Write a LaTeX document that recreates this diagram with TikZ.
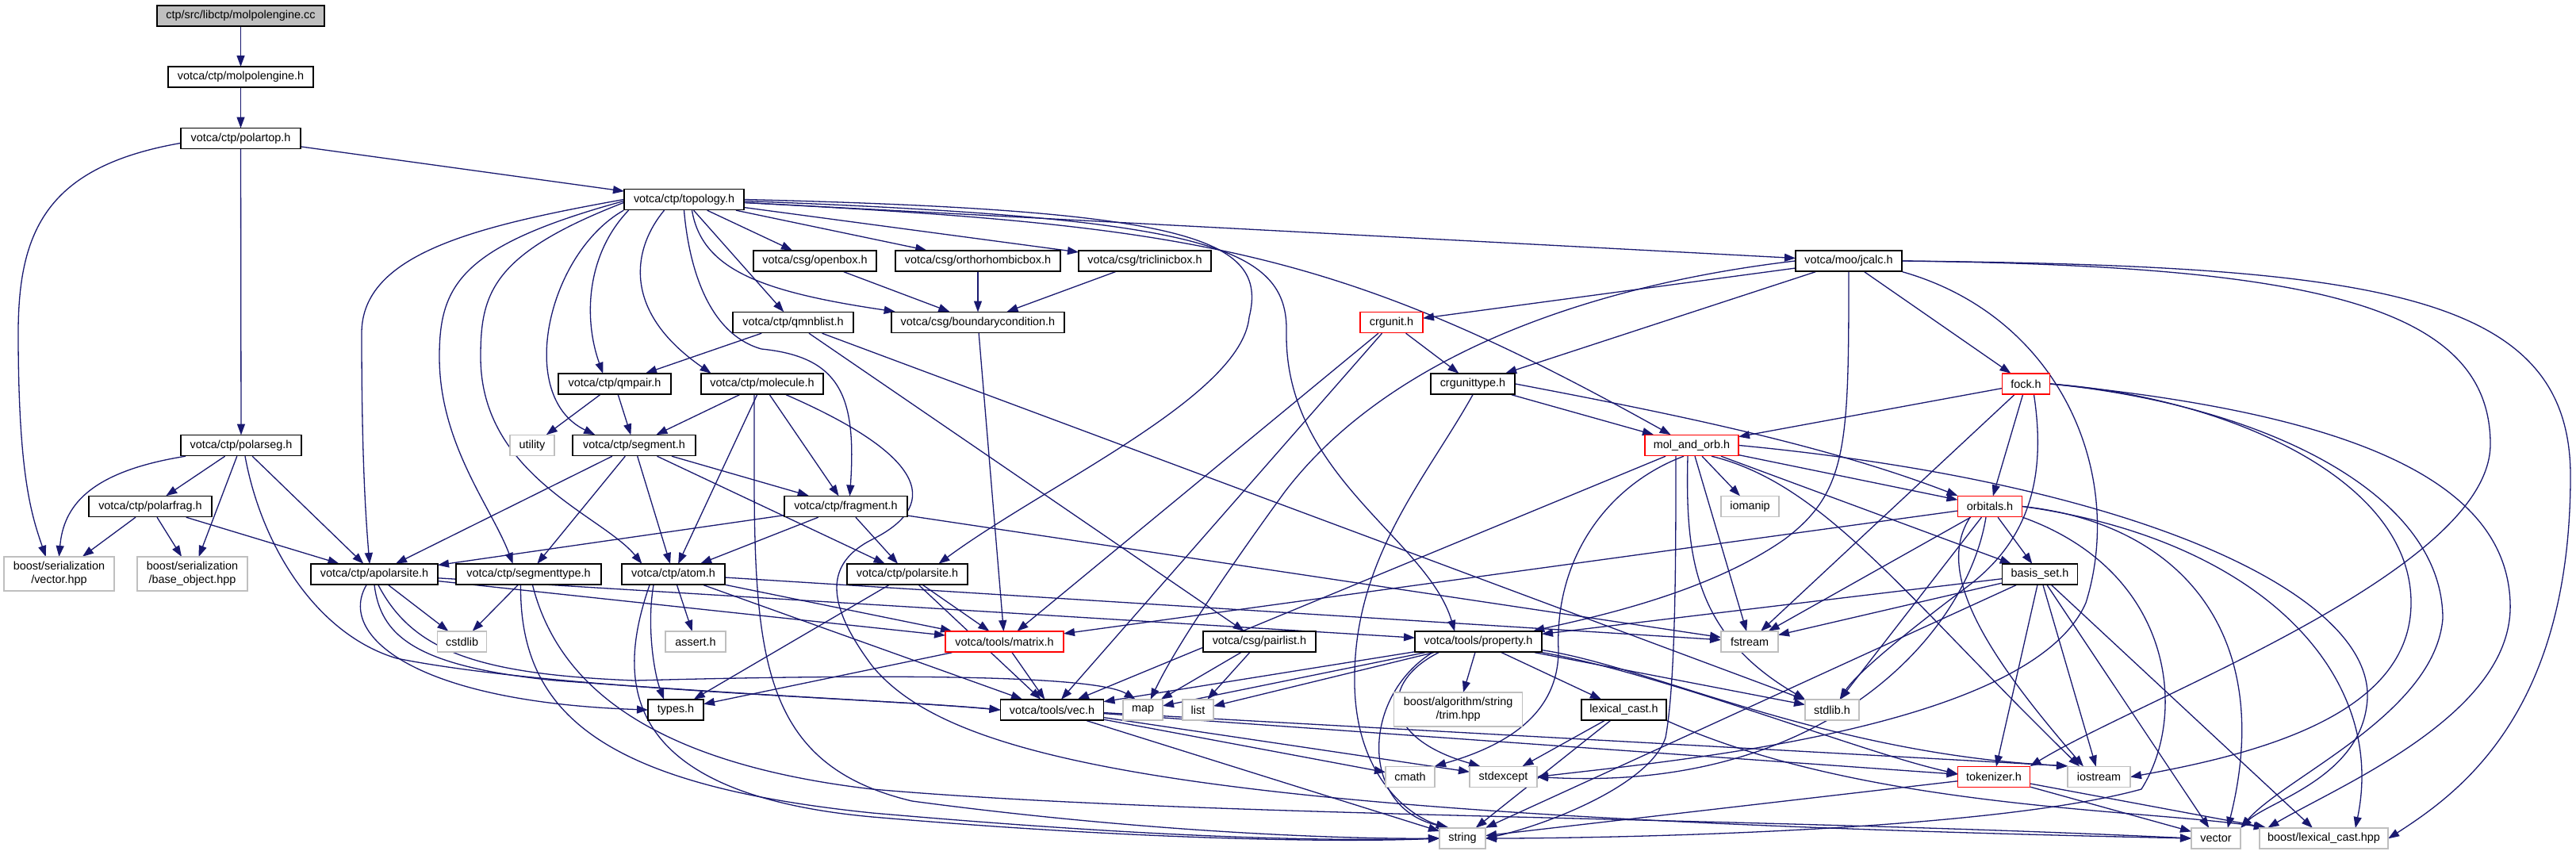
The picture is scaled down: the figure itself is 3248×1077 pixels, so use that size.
\documentclass[tikz,border=0pt]{standalone}
\usepackage{fontspec}
\setmainfont{Liberation Sans}
\usepackage{tikz}
\usetikzlibrary{arrows.meta}
\definecolor{edgeblue}{HTML}{191970}
\definecolor{sysgray}{HTML}{BFBFBF}
\definecolor{truncred}{HTML}{FF0000}
\pgfdeclarelayer{edges}
\pgfsetlayers{edges,main}

\begin{document}
\begin{tikzpicture}[
  x=1pt, y=-1pt,
  box/.style={rectangle, draw=black, line width=1.4pt, fill=white, minimum height=26pt, inner xsep=4pt, inner ysep=0pt, align=center, font=\fontsize{14.4}{17}\selectfont},
  sysbox/.style={box, draw=sysgray},
  redbox/.style={box, draw=truncred},
  rootbox/.style={box, fill=sysgray},
  arrow/.style={-{Triangle[length=14pt,width=10pt]}, draw=edgeblue, line width=1.3pt, shorten >=-0.7pt}
]
\node[rootbox, minimum width=211pt] (cc) at (303.5,20) {ctp/src/libctp/molpolengine.cc};
\node[box, minimum width=183pt] (mpe) at (303.5,97) {votca/ctp/molpolengine.h};
\node[box, minimum width=151pt] (ptop) at (303.5,174.5) {votca/ctp/polartop.h};
\node[box, minimum width=151pt] (topo) at (862.5,251.5) {votca/ctp/topology.h};
\node[box, minimum width=155pt] (obox) at (1027.5,329) {votca/csg/openbox.h};
\node[box, minimum width=208pt] (orbox) at (1233,329) {votca/csg/orthorhombicbox.h};
\node[box, minimum width=167pt] (tbox) at (1443.5,329) {votca/csg/triclinicbox.h};
\node[box, minimum width=134pt] (jcalc) at (2331,329) {votca/moo/jcalc.h};
\node[box, minimum width=152pt] (nblist) at (1000,406.5) {votca/ctp/qmnblist.h};
\node[box, minimum width=218pt] (bcond) at (1233,406.5) {votca/csg/boundarycondition.h};
\node[redbox, minimum width=79pt] (crg) at (1754.5,406.5) {crgunit.h};
\node[box, minimum width=142pt] (qmpair) at (775,484) {votca/ctp/qmpair.h};
\node[box, minimum width=154pt] (mol) at (961,484) {votca/ctp/molecule.h};
\node[box, minimum width=106pt] (crgtype) at (1857,484) {crgunittype.h};
\node[redbox, minimum width=60pt] (fock) at (2554.5,484) {fock.h};
\node[box, minimum width=152pt] (pseg) at (304,561.5) {votca/ctp/polarseg.h};
\node[sysbox, minimum width=56pt] (utility) at (671,561.5) {utility};
\node[box, minimum width=155pt] (seg) at (799.5,561.5) {votca/ctp/segment.h};
\node[redbox, minimum width=118pt] (molorb) at (2133,561.5) {mol\_and\_orb.h};
\node[box, minimum width=155pt] (pfrag) at (189.5,638.5) {votca/ctp/polarfrag.h};
\node[box, minimum width=155pt] (frag) at (1066.5,638.5) {votca/ctp/fragment.h};
\node[sysbox, minimum width=73pt] (iomanip) at (2206.5,638.5) {iomanip};
\node[redbox, minimum width=81pt] (orbs) at (2509,638.5) {orbitals.h};
\node[sysbox, minimum width=139pt, minimum height=43pt] (bsvec) at (74.5,723.5) {boost/serialization\\/vector.hpp};
\node[sysbox, minimum width=139pt, minimum height=43pt] (bsbase) at (242.5,723.5) {boost/serialization\\/base\_object.hpp};
\node[box, minimum width=160pt] (apsite) at (472,724) {votca/ctp/apolarsite.h};
\node[box, minimum width=183pt] (segtype) at (666.5,724) {votca/ctp/segmenttype.h};
\node[box, minimum width=130pt] (atom) at (849,724) {votca/ctp/atom.h};
\node[box, minimum width=152pt] (psite) at (1144,724) {votca/ctp/polarsite.h};
\node[box, minimum width=95pt] (basis) at (2572,724) {basis\_set.h};
\node[sysbox, minimum width=62pt] (cstdlib) at (582.6,809) {cstdlib};
\node[sysbox, minimum width=76pt] (assert) at (877,809) {assert.h};
\node[redbox, minimum width=149pt] (matrix) at (1266.5,809) {votca/tools/matrix.h};
\node[box, minimum width=142pt] (pairlist) at (1588,809) {votca/csg/pairlist.h};
\node[box, minimum width=160pt] (prop) at (1864,809) {votca/tools/property.h};
\node[sysbox, minimum width=72pt] (fstream) at (2206,809) {fstream};
\node[box, minimum width=70pt] (types) at (852,895) {types.h};
\node[box, minimum width=130pt] (vec) at (1326.5,895) {votca/tools/vec.h};
\node[sysbox, minimum width=50pt] (map) at (1441,895) {map};
\node[sysbox, minimum width=39pt] (list) at (1510.5,895) {list};
\node[sysbox, minimum width=162pt, minimum height=43pt] (trim) at (1838.6,894.5) {boost/algorithm/string\\/trim.hpp};
\node[box, minimum width=107pt] (lexcast) at (2047.5,895) {lexical\_cast.h};
\node[sysbox, minimum width=68pt] (stdlibh) at (2310,895) {stdlib.h};
\node[sysbox, minimum width=62pt] (cmath) at (1778,979.5) {cmath};
\node[sysbox, minimum width=85pt] (stdexcept) at (1895.5,979.5) {stdexcept};
\node[redbox, minimum width=91pt] (tokenizer) at (2514,979.5) {tokenizer.h};
\node[sysbox, minimum width=79pt] (iostream) at (2646.5,979.5) {iostream};
\node[sysbox, minimum width=58pt] (string) at (1844,1057) {string};
\node[sysbox, minimum width=62pt] (vector) at (2794,1057) {vector};
\node[sysbox, minimum width=162pt] (blexcast) at (2930,1057) {boost/lexical\_cast.hpp};

\begin{pgfonlayer}{edges}
\fill[white] (0,0) rectangle (3248,1077);

\draw[arrow] (cc) -- (mpe);
\draw[arrow] (mpe) -- (ptop);
\draw[arrow] (ptop) -- (topo);
\draw[arrow] (ptop) -- (pseg);
\draw[arrow] ([yshift=-6pt]ptop.west) .. controls (60,210) and (23,290) .. (23,420) .. controls (23,600) and (40,650) .. ([xshift=-17pt]bsvec.north);

\draw[arrow] (topo) -- (obox);
\draw[arrow] (topo) -- (orbox);
\draw[arrow] (topo) -- (tbox);
\draw[arrow] (topo) -- (jcalc);
\draw[arrow] ([xshift=10pt]topo.south) .. controls (885,340) and (960,368) .. ([xshift=-105pt]bcond.north);
\draw[arrow] (topo) -- (nblist);
\draw[arrow] (topo.south) .. controls (868,330) and (890,420) .. (960,440) .. controls (1060,450) and (1080,500) .. ([xshift=5pt]frag.north);
\draw[arrow] ([xshift=-25pt]topo.south) .. controls (800,310) and (780,390) .. ([xshift=-65pt]mol.north);
\draw[arrow] ([xshift=-70pt]topo.south) .. controls (740,320) and (735,400) .. ([xshift=-15pt]qmpair.north);
\draw[arrow] (topo.south west) .. controls (690,320) and (650,500) .. ([xshift=-50pt]seg.north);
\draw[arrow] ([yshift=-4pt]topo.west) .. controls (620,320) and (606,370) .. (606,450) .. controls (606,600) and (760,650) .. ([xshift=-40pt]atom.north);
\draw[arrow] ([yshift=-2pt]topo.west) .. controls (580,310) and (554,360) .. (554,450) .. controls (554,560) and (620,640) .. ([xshift=-20pt]segtype.north);
\draw[arrow] (topo.west) .. controls (600,285) and (456,320) .. (456,420) .. controls (456,560) and (460,640) .. ([xshift=-6pt]apsite.north);
\draw[arrow] (topo.east) .. controls (1500,265) and (1600,300) .. (1575,400) .. controls (1565,500) and (1320,610) .. ([xshift=40pt]psite.north);
\draw[arrow] ([yshift=-2pt]topo.east) .. controls (1520,275) and (1625,310) .. (1622,420) .. controls (1620,600) and (1800,680) .. ([xshift=-30pt]prop.north);
\draw[arrow] ([yshift=-4pt]topo.east) .. controls (1500,285) and (1680,310) .. ([xshift=-27pt]molorb.north);

\draw[arrow] (obox) -- (bcond);
\draw[arrow] (orbox) -- (bcond);
\draw[arrow] (tbox) -- (bcond);
\draw[arrow] (bcond) -- (matrix);

\draw[arrow] (nblist) -- (qmpair);
\draw[arrow] (nblist) -- (pairlist);
\draw[arrow] (nblist) -- (stdlibh);
\draw[arrow] (qmpair) -- (utility);
\draw[arrow] (qmpair) -- (seg);

\draw[arrow] (mol) -- (seg);
\draw[arrow] (mol) -- (atom);
\draw[arrow] (mol) -- (frag);
\draw[arrow] ([xshift=-10pt]mol.south) .. controls (951,800) and (940,960) .. (1150,1010) .. controls (1450,1050) and (1700,1058) .. (string.west);
\draw[arrow] ([xshift=30pt]mol.south) .. controls (1180,580) and (1180,640) .. (1100,680) .. controls (1040,710) and (1040,760) .. (1100,840) .. controls (1200,960) and (1500,1030) .. (vector.west);

\draw[arrow] (seg) -- (apsite);
\draw[arrow] (seg) -- (segtype);
\draw[arrow] (seg) -- (atom);
\draw[arrow] (seg) -- (frag);
\draw[arrow] (seg) -- (psite);

\draw[arrow] (frag) -- (apsite);
\draw[arrow] (frag) -- (atom);
\draw[arrow] (frag) -- (psite);
\draw[arrow] (frag) -- (fstream);

\draw[arrow] ([xshift=-70pt]pseg.south) .. controls (110,595) and (80,640) .. (bsvec.north);
\draw[arrow] (pseg) -- (pfrag);
\draw[arrow] (pseg) -- (bsbase);
\draw[arrow] (pseg) -- (apsite);
\draw[arrow] ([xshift=5pt]pseg.south) .. controls (330,690) and (400,800) .. (500,830) .. controls (700,870) and (1100,880) .. (vec.west);
\draw[arrow] (pfrag) -- (bsvec);
\draw[arrow] (pfrag) -- (bsbase);
\draw[arrow] (pfrag) -- (apsite);

\draw[arrow] (apsite) -- (cstdlib);
\draw[arrow] (apsite) -- (matrix);
\draw[arrow] (apsite) -- (prop);
\draw[arrow] ([xshift=-10pt]apsite.south) .. controls (425,800) and (520,885) .. (types.west);
\draw[arrow] (apsite.south) .. controls (480,800) and (520,840) .. (700,858) .. controls (1000,880) and (1150,885) .. (vec.west);
\draw[arrow] ([xshift=5pt]apsite.south) .. controls (520,820) and (600,850) .. (800,858) .. controls (1100,850) and (1380,850) .. ([xshift=-10pt]map.north);

\draw[arrow] (segtype) -- (cstdlib);
\draw[arrow] ([xshift=-10pt]segtype.south) .. controls (655,900) and (760,990) .. (1100,1025) .. controls (1500,1060) and (1700,1060) .. (string.west);
\draw[arrow] ([xshift=5pt]segtype.south) .. controls (700,850) and (800,960) .. (1100,995) .. controls (1500,1030) and (2200,1030) .. (vector.west);

\draw[arrow] (atom) -- (assert);
\draw[arrow] ([xshift=-25pt]atom.south) .. controls (815,790) and (825,850) .. ([xshift=-15pt]types.north);
\draw[arrow] (atom) -- (matrix);
\draw[arrow] (atom) -- (vec);
\draw[arrow] (atom) -- (fstream);
\draw[arrow] ([xshift=-30pt]atom.south) .. controls (780,850) and (770,1000) .. (1100,1030) .. controls (1450,1060) and (1700,1062) .. (string.west);

\draw[arrow] (psite) -- (types);
\draw[arrow] (psite) -- (matrix);
\draw[arrow] (psite) -- (vec);

\draw[arrow] (matrix) -- (types);
\draw[arrow] (matrix) -- (vec);
\draw[arrow] (pairlist) -- (map);
\draw[arrow] (pairlist) -- (list);

\draw[arrow] (crg) -- (crgtype);
\draw[arrow] (crg) -- (matrix);
\draw[arrow] (crg) -- (vec);

\draw[arrow] (crgtype) -- (molorb);
\draw[arrow] (crgtype.east) .. controls (2100,520) and (2300,560) .. (orbs.north west);
\draw[arrow] (crgtype.south) .. controls (1800,600) and (1710,700) .. (1708,850) .. controls (1705,980) and (1780,1030) .. ([xshift=-20pt]string.north);

\draw[arrow] (jcalc) -- (crg);
\draw[arrow] (jcalc) -- (crgtype);
\draw[arrow] (jcalc) -- (fock);
\draw[arrow] (jcalc.west) .. controls (2000,360) and (1750,450) .. (1620,620) .. controls (1540,730) and (1480,820) .. ([xshift=10pt]map.north);
\draw[arrow] (jcalc.south) .. controls (2331,560) and (2330,620) .. (2250,680) .. controls (2150,750) and (2000,780) .. ([xshift=70pt]prop.north);
\draw[arrow] (jcalc.south east) .. controls (2600,400) and (2680,600) .. (2630,760) .. controls (2560,920) and (2100,960) .. (stdexcept.east);
\draw[arrow] (jcalc.east) .. controls (2900,335) and (3140,380) .. (3140,560) .. controls (3140,720) and (2700,880) .. (tokenizer.north east);
\draw[arrow] (jcalc.east) .. controls (3000,335) and (3241,370) .. (3241,600) .. controls (3241,900) and (3100,1000) .. (blexcast.east);

\draw[arrow] (fock) -- (molorb);
\draw[arrow] (fock) -- (orbs);
\draw[arrow] (fock) -- (fstream);
\draw[arrow] ([xshift=10pt]fock.south) .. controls (2580,600) and (2560,680) .. (2480,740) .. controls (2400,800) and (2340,850) .. ([xshift=10pt]stdlibh.north);
\draw[arrow] (fock.east) .. controls (2950,520) and (3160,600) .. (3165,760) .. controls (3170,900) and (2950,990) .. ([xshift=-70pt]blexcast.north);
\draw[arrow] (fock.east) .. controls (2800,500) and (3040,600) .. (3040,760) .. controls (3040,900) and (2850,950) .. (iostream.east);
\draw[arrow] (fock.east) .. controls (2850,510) and (3080,620) .. (3080,780) .. controls (3070,900) and (2880,980) .. (vector.north east);

\draw[arrow] (orbs) -- (basis);
\draw[arrow] (orbs) -- (matrix);
\draw[arrow] (orbs) -- (fstream);
\draw[arrow] (orbs) -- (stdlibh);
\draw[arrow] ([xshift=-25pt]orbs.south) .. controls (2440,720) and (2500,820) .. ([xshift=-20pt]iostream.north);
\draw[arrow] ([xshift=-5pt]orbs.south) .. controls (2480,800) and (2300,1000) .. (stdexcept.east);
\draw[arrow] (orbs.south east) .. controls (2740,720) and (2760,900) .. (2700,995) .. controls (2500,1050) and (2000,1057) .. (string.east);
\draw[arrow] (orbs.east) .. controls (2750,660) and (2870,800) .. ([xshift=15pt]vector.north);
\draw[arrow] (orbs.east) .. controls (2850,680) and (3010,850) .. ([xshift=40pt]blexcast.north);

\draw[arrow] (basis) -- (prop);
\draw[arrow] (basis) -- (fstream);
\draw[arrow] (basis) -- (tokenizer);
\draw[arrow] (basis) -- (iostream);
\draw[arrow] (basis) -- (string);
\draw[arrow] (basis) -- (vector);
\draw[arrow] (basis) -- (blexcast);

\draw[arrow] (molorb) -- (orbs);
\draw[arrow] (molorb) -- (basis);
\draw[arrow] (molorb) -- (iomanip);
\draw[arrow] (molorb) -- (vec);
\draw[arrow] (molorb) -- (fstream);
\draw[arrow] ([xshift=-10pt]molorb.south) .. controls (2030,610) and (1960,700) .. (1965,820) .. controls (1965,900) and (1900,940) .. (cmath.north east);
\draw[arrow] ([xshift=-20pt]molorb.south) .. controls (2113,700) and (2113,860) .. (2100,930) .. controls (2080,990) and (1950,1040) .. (string.east);
\draw[arrow] ([xshift=-5pt]molorb.south) .. controls (2125,700) and (2135,800) .. (stdlibh.north west);
\draw[arrow] ([xshift=25pt]molorb.south) .. controls (2300,610) and (2400,750) .. ([xshift=-25pt]iostream.north);
\draw[arrow] (molorb.east) .. controls (2700,610) and (2990,750) .. (2985,880) .. controls (2980,980) and (2860,1010) .. (vector.north east);

\draw[arrow] (prop) -- (trim);
\draw[arrow] (prop) -- (lexcast);
\draw[arrow] (prop) -- (stdlibh);
\draw[arrow] (prop) -- (vec);
\draw[arrow] (prop) -- (map);
\draw[arrow] (prop) -- (list);
\draw[arrow] ([xshift=-50pt]prop.south) .. controls (1740,860) and (1740,930) .. ([xshift=-30pt]stdexcept.north);
\draw[arrow] ([xshift=-58pt]prop.south) .. controls (1715,880) and (1715,1020) .. ([xshift=-18pt]string.north);
\draw[arrow] (prop.south east) .. controls (2100,850) and (2350,950) .. ([yshift=4pt]tokenizer.west);
\draw[arrow] ([yshift=3pt]prop.south east) .. controls (2080,840) and (2300,950) .. (iostream.north west);

\draw[arrow] (lexcast) -- (stdexcept);
\draw[arrow] (lexcast) -- (string);
\draw[arrow] (lexcast.south east) .. controls (2350,1020) and (2700,1020) .. ([xshift=-75pt]blexcast.north);

\draw[arrow] (tokenizer) -- (string);
\draw[arrow] (tokenizer) -- (vector);
\draw[arrow] (tokenizer) -- (blexcast);

\draw[arrow] (vec) -- (cmath);
\draw[arrow] (vec) -- (stdexcept);
\draw[arrow] (vec) -- (string);
\draw[arrow] (vec) -- (tokenizer);
\draw[arrow] (vec) -- (iostream.north west);
\end{pgfonlayer}
\end{tikzpicture}
\end{document}
